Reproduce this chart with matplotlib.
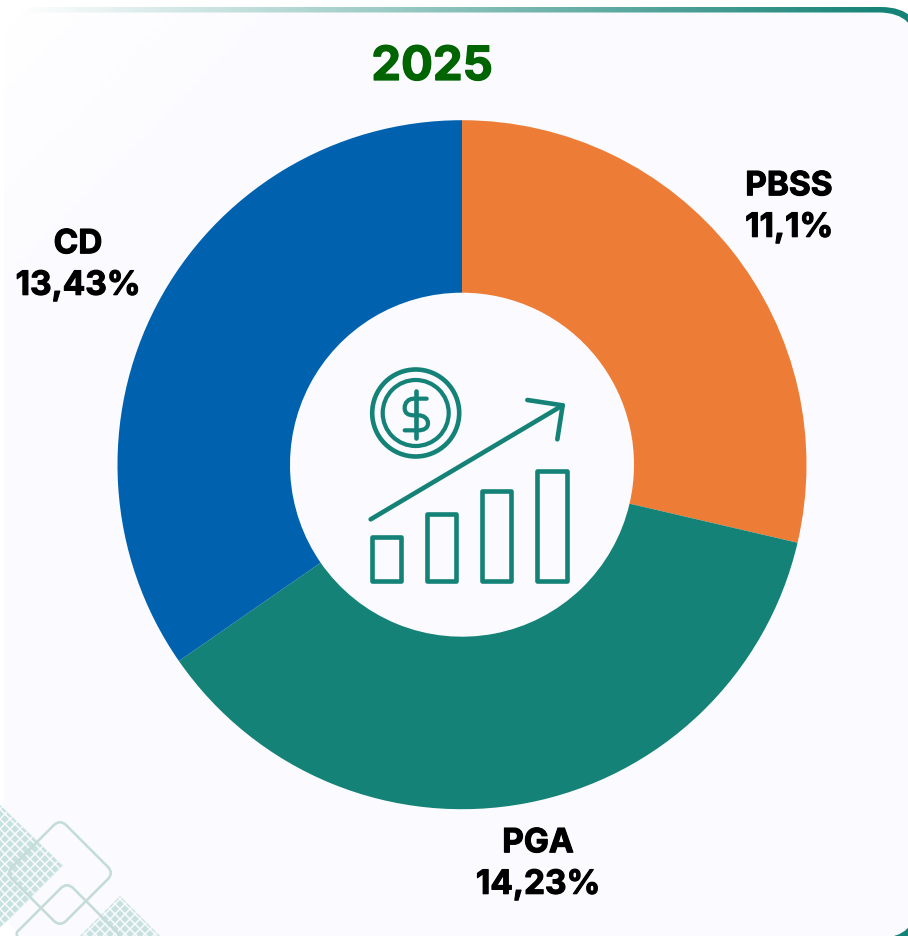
import numpy as np
import matplotlib
matplotlib.use('Agg')
import matplotlib.pyplot as plt
import matplotlib.patheffects as pe
from matplotlib.patches import FancyBboxPatch, Circle, Rectangle, Polygon, PathPatch
from matplotlib.path import Path
from matplotlib.collections import LineCollection
from matplotlib.colors import LinearSegmentedColormap

plt.rcParams['font.family'] = ['Inter', 'DejaVu Sans']

# data
title = '2025'
categories = ['PBSS', 'PGA', 'CD']
values = [11.1, 14.23, 13.43]
value_labels = ['11,1%', '14,23%', '13,43%']
colors = ['#ED7D36', '#148276', '#0062AE']

TEAL = '#148276'
PANEL = '#FBFBFF'
MESH = '#C6E1DF'
OUTLINE = '#C5DCD9'
PX = 0.72  # 1 pixel in points at dpi 100

fig = plt.figure(figsize=(9.08, 9.37), dpi=100, facecolor='white')
ax = fig.add_axes([0, 0, 1, 1])  # axes in image pixels, y going down


def rounded(x0, y0, x1, y1, r, **kw):
    p = FancyBboxPatch((x0 + r, y0 + r), x1 - x0 - 2 * r, y1 - y0 - 2 * r,
                       boxstyle='round,pad=%f,rounding_size=%f' % (r, r), **kw)
    ax.add_patch(p)
    return p


# card border with the fading gradient
outer = rounded(0, 8, 922, 960, 41, fc='none', ec='none')
cmap = LinearSegmentedColormap.from_list('edge', ['#FFFFFF', TEAL])
grad = np.clip((np.arange(908) - 15) / 875, 0, 1).reshape(1, -1)
im = ax.imshow(grad, extent=(0, 908, 937, 0), cmap=cmap, aspect='auto', zorder=1,
               vmin=0, vmax=1)
im.set_clip_path(outer)

# card, almost white in the top left and a little bluer further down
card = rounded(4, 13.5, 917, 939, 38, fc='none', ec='none', zorder=2)
card_cmap = LinearSegmentedColormap.from_list('card', ['#FFFFFF', PANEL])
yy, xx = np.mgrid[0:1:100j, 0:1:100j]
card_im = ax.imshow(np.clip((xx + yy) * 2.5, 0, 1), extent=(0, 908, 937, 0), cmap=card_cmap,
                    aspect='auto', zorder=2, vmin=0, vmax=1)
card_im.set_clip_path(card)


# background decoration, bottom left
def mesh(points):
    poly = Polygon(points, closed=True, fc=MESH, ec='none', zorder=3)
    ax.add_patch(poly)
    segs = []
    for c in np.arange(-1400, 1400, 10.0):
        segs.append([(c, 700), (c + 300, 1000)])
        segs.append([(c + 300, 700), (c, 1000)])
    lines = LineCollection(segs, colors=PANEL, linewidths=1.5 * PX, zorder=3.1)
    ax.add_collection(lines)
    lines.set_clip_path(poly)


mesh([(-2, 804), (63, 867), (15, 915), (-2, 930)])
mesh([(120, 897), (165, 942), (75, 942)])


def outline(cx, cy, r):
    s = 9
    verts = [(cx, cy - r), (cx + r, cy), (cx, cy + r), (cx - r, cy), (cx, cy - r)]
    path_v, codes = [], []
    for i in range(4):
        a = np.array(verts[i], float)
        b = np.array(verts[i + 1], float)
        c = np.array(verts[(i + 2) % 4], float)
        u = (b - a) / np.linalg.norm(b - a)
        w = (c - b) / np.linalg.norm(c - b)
        if i == 0:
            path_v.append(a + u * s)
            codes.append(Path.MOVETO)
        path_v += [b - u * s, b, b + w * s]
        codes += [Path.LINETO, Path.CURVE3, Path.CURVE3]
    path_v += [path_v[0]]
    codes += [Path.CLOSEPOLY]
    ax.add_patch(PathPatch(Path(path_v, codes), fc='none', ec=OUTLINE,
                           lw=2.6 * PX, zorder=3.5))


outline(60, 874, 54)
outline(67, 939, 56)

# donut
wedges, _ = ax.pie(values, colors=colors, startangle=-90, counterclock=True, radius=344.5,
                   center=(462, 465.7), frame=True,
                   wedgeprops=dict(width=172.5, linewidth=0))
for w in wedges:
    w.set_zorder(4)

ax.text(432, 69, title, color='#006400', fontsize=34, fontweight='bold',
        ha='center', va='center', zorder=6,
        path_effects=[pe.withStroke(linewidth=0.9, foreground='#006400')])

label_pos = [(789, 208), (538, 865), (78, 266)]
for name, txt, (x, y) in zip(categories, value_labels, label_pos):
    ax.text(x, y, name + '\n' + txt, color='black', fontsize=24, fontweight='bold',
            ha='center', va='center', linespacing=1.38, zorder=6,
            path_effects=[pe.withStroke(linewidth=0.8, foreground='black')])

# icon in the hole
icon = dict(color=TEAL, lw=4.6 * PX, solid_capstyle='round', solid_joinstyle='round', zorder=6)
ax.add_patch(Circle((415.7, 414), 43.5, fc='none', ec=TEAL, lw=4.6 * PX, zorder=6))
ax.add_patch(Circle((415.7, 414), 33, fc='none', ec=TEAL, lw=4.2 * PX, zorder=6))


def zoomed(x, y):
    return 340 + x / 3, 351 + y / 3


dollar_v = [(260, 146), (222, 146), (205, 146), (194, 158), (194, 174), (194, 190), (205, 196),
            (222, 196), (235, 196), (252, 196), (264, 206), (264, 220), (264, 234), (252, 241),
            (235, 241), (194, 241)]
dollar_c = [Path.MOVETO, Path.LINETO, Path.CURVE4, Path.CURVE4, Path.CURVE4, Path.CURVE4,
            Path.CURVE4, Path.CURVE4, Path.LINETO, Path.CURVE4, Path.CURVE4, Path.CURVE4,
            Path.CURVE4, Path.CURVE4, Path.CURVE4, Path.LINETO]
ax.add_patch(PathPatch(Path([zoomed(*p) for p in dollar_v], dollar_c), fc='none', ec=TEAL,
                       lw=4.2 * PX, capstyle='round', zorder=6))
ax.plot([415.7, 415.7], [392, 439], **icon)

# arrow
x0, y0 = zoomed(92, 508)
x1, y1 = zoomed(668, 166)
ax.plot([x0, x1], [y0, y1], **icon)
hx, hy = zip(zoomed(562, 150), zoomed(668, 166), zoomed(652, 268))
ax.plot(hx, hy, **icon)

# icon bars
for left, top, right, bottom in [(90, 555, 190, 700), (256, 487, 355, 700),
                                 (421, 417, 520, 700), (586, 358, 686, 700)]:
    xa, ya = zoomed(left, top)
    xb, yb = zoomed(right, bottom)
    ax.add_patch(Rectangle((xa + 2, ya + 2), xb - xa - 4, yb - ya - 4, fc='none', ec=TEAL,
                           lw=4.6 * PX, joinstyle='round', zorder=6))

ax.set_xlim(0, 908)
ax.set_ylim(937, 0)
ax.axis('off')

fig.savefig('out.png', dpi=100, facecolor='white')
